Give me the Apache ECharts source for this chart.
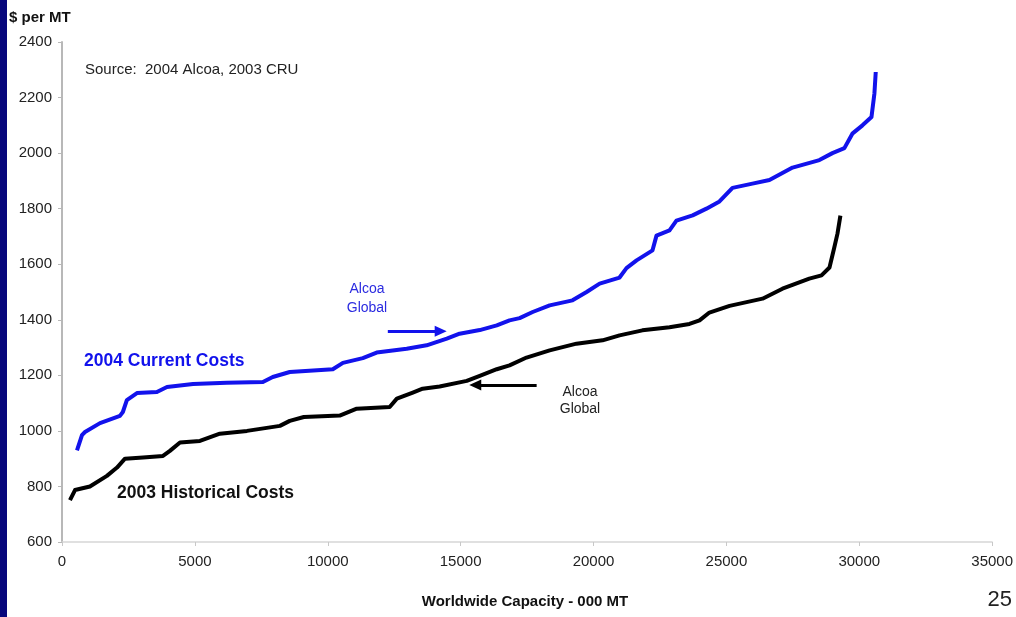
<!DOCTYPE html>
<html>
<head>
<meta charset="utf-8">
<script src="https://cdn.jsdelivr.net/npm/echarts@6/dist/echarts.min.js"></script>
<style>
  html, body { margin: 0; padding: 0; background: #ffffff; }
  #chart { width: 1016px; height: 617px; }
</style>
</head>
<body>
<div id="chart"></div>
<script>
// Cumulative worldwide smelter capacity (000 MT) vs. cash cost ($ per MT)
const currentCapacity = [564, 752, 865, 1430, 2180, 2290, 2440, 2820, 3570, 3950, 4930, 6200, 7560, 7930, 8570,
  10190, 10570, 11320, 11840, 12970, 13720, 14480, 14960, 15720, 16360, 16840, 17220, 17710, 18350, 19210,
  19740, 20230, 20980, 21240, 21620, 22220, 22370, 22860, 23120, 23730, 24250, 24740, 25230, 25980, 26620,
  27490, 28500, 28990, 29440, 29740, 30120, 30460, 30570, 30620];
const currentCost = [930, 985, 996, 1028, 1054, 1068, 1111, 1136, 1140, 1158, 1169, 1173, 1176, 1194, 1212,
  1222, 1245, 1262, 1282, 1296, 1308, 1332, 1350, 1363, 1380, 1398, 1406, 1428, 1452, 1470,
  1500, 1530, 1552, 1586, 1614, 1650, 1703, 1722, 1757, 1776, 1800, 1826, 1875, 1890, 1903,
  1948, 1975, 2000, 2018, 2070, 2100, 2130, 2215, 2292];

const historicalCapacity = [300, 490, 1050, 1690, 2070, 2370, 3050, 3800, 4060, 4440, 5190, 5940, 6960, 8200,
  8570, 9100, 10450, 11090, 12330, 12600, 13200, 13570, 14210, 15230, 15720, 16360, 16840, 17480, 18350,
  19360, 20340, 20980, 21840, 22860, 23610, 23990, 24360, 25120, 26360, 27110, 28120, 28580, 28880, 29060,
  29180, 29290];
const historicalCost = [751, 787, 800, 838, 868, 900, 904, 910, 928, 958, 964, 990, 1000, 1018,
  1036, 1050, 1055, 1080, 1086, 1116, 1138, 1152, 1160, 1180, 1198, 1222, 1236, 1264, 1290,
  1314, 1326, 1344, 1362, 1373, 1385, 1398, 1426, 1450, 1476, 1512, 1548, 1560, 1588, 1660,
  1710, 1775];

// Alcoa Global position markers (arrow start/end in axis units)
const currentArrow = [[12260, 1359], [14250, 1359]];
const historicalArrow = [[17860, 1165], [15550, 1165]];

const xTicks = { min: 0, max: 35000, interval: 5000 };
const yTicks = { min: 600, max: 2400, interval: 200 };

const BLUE = '#1212ec';
const FONT = '"Liberation Sans", Arial, sans-serif';

const zip = (xs, ys) => xs.map((x, i) => [x, ys[i]]);
const plain = v => String(v);

const chart = echarts.init(document.getElementById('chart'), null, { renderer: 'canvas' });

chart.setOption({
  animation: false,
  backgroundColor: '#ffffff',
  grid: { left: 62, right: 23, top: 42, bottom: 75, containLabel: false },
  xAxis: {
    type: 'value',
    min: xTicks.min, max: xTicks.max, interval: xTicks.interval,
    axisLine: { show: true, lineStyle: { color: '#d6d6d6', width: 1.5 } },
    axisTick: { show: true, length: 4, lineStyle: { color: '#c8c8c8' } },
    axisLabel: { color: '#222', fontFamily: FONT, fontSize: 15, margin: 12, formatter: plain },
    splitLine: { show: false }
  },
  yAxis: {
    type: 'value',
    min: yTicks.min, max: yTicks.max, interval: yTicks.interval,
    axisLine: { show: true, lineStyle: { color: '#b8b8b8', width: 2 } },
    axisTick: { show: true, length: 4, lineStyle: { color: '#b8b8b8' } },
    axisLabel: { color: '#222', fontFamily: FONT, fontSize: 15, margin: 10, formatter: plain },
    splitLine: { show: false }
  },
  series: [
    {
      name: '2004 Current Costs',
      type: 'line',
      data: zip(currentCapacity, currentCost),
      showSymbol: false,
      lineStyle: { color: BLUE, width: 4, join: 'round', cap: 'butt' },
      z: 3,
      markLine: {
        silent: true,
        symbol: ['none', 'triangle'],
        symbolSize: [11, 12],
        label: { show: false },
        lineStyle: { color: BLUE, width: 3, type: 'solid' },
        data: [[{ coord: currentArrow[0] }, { coord: currentArrow[1] }]]
      }
    },
    {
      name: '2003 Historical Costs',
      type: 'line',
      data: zip(historicalCapacity, historicalCost),
      showSymbol: false,
      lineStyle: { color: '#000000', width: 4, join: 'round', cap: 'butt' },
      z: 3,
      markLine: {
        silent: true,
        symbol: ['none', 'triangle'],
        symbolSize: [11, 12],
        label: { show: false },
        lineStyle: { color: '#000000', width: 3, type: 'solid' },
        data: [[{ coord: historicalArrow[0] }, { coord: historicalArrow[1] }]]
      }
    }
  ],
  graphic: [
    { type: 'rect', left: 0, top: 0, shape: { width: 7, height: 617 }, style: { fill: '#07077c' } },
    { type: 'text', left: 9, top: 10, style: { text: '$ per MT', font: 'bold 15px ' + FONT, fill: '#111' } },
    { type: 'text', left: 85, top: 62, style: { text: 'Source:  2004 Alcoa, 2003 CRU', font: '15px ' + FONT, fill: '#222' } },
    { type: 'text', left: 84, top: 352, style: { text: '2004 Current Costs', font: 'bold 17.5px ' + FONT, fill: BLUE } },
    { type: 'text', left: 117, top: 484, style: { text: '2003 Historical Costs', font: 'bold 17.5px ' + FONT, fill: '#111' } },
    { type: 'text', x: 367, y: 280, style: { text: 'Alcoa\nGlobal', font: '14px ' + FONT, fill: '#2b2be0', align: 'center', lineHeight: 19 } },
    { type: 'text', x: 580, y: 384, style: { text: 'Alcoa\nGlobal', font: '14px ' + FONT, fill: '#222', align: 'center', lineHeight: 17 } },
    { type: 'text', x: 525, y: 594, style: { text: 'Worldwide Capacity - 000 MT', font: 'bold 15px ' + FONT, fill: '#111', align: 'center' } },
    { type: 'text', right: 4, top: 589, style: { text: '25', font: '22px ' + FONT, fill: '#222' } }
  ]
});
</script>
</body>
</html>
